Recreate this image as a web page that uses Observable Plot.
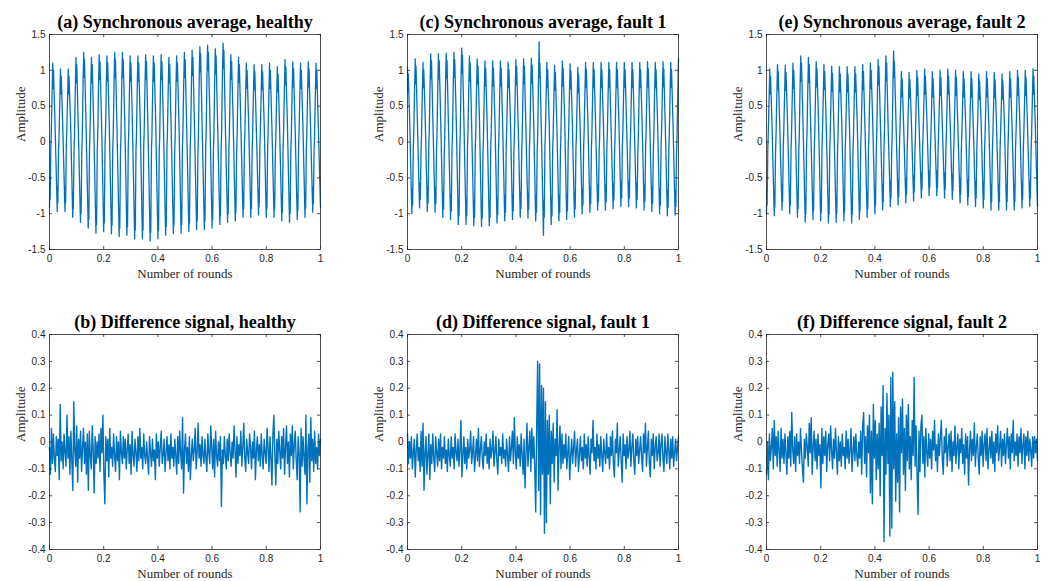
<!DOCTYPE html>
<html><head><meta charset="utf-8">
<script src="https://cdn.jsdelivr.net/npm/d3@7"></script>
<script src="https://cdn.jsdelivr.net/npm/@observablehq/plot@0.6"></script>
<style>
html,body{margin:0;padding:0;background:#fff;width:1053px;height:581px;overflow:hidden;}
#root{position:relative;width:1053px;height:581px;}
.panel{position:absolute;}
</style></head><body><div id="root"></div>
<script>
const titles = ["(a) Synchronous average, healthy","(b) Difference signal, healthy","(c) Synchronous average, fault 1","(d) Difference signal, fault 1","(e) Synchronous average, fault 2","(f) Difference signal, fault 2"];
const xLabel = "Number of rounds";
const yLabel = "Amplitude";
const xTicks = [0,0.2,0.4,0.6,0.8,1];
const xTickLabels = ["0","0.2","0.4","0.6","0.8","1"];
const yTicksTop = [1.5,1,0.5,0,-0.5,-1,-1.5];
const yTickLabelsTop = ["1.5","1","0.5","0","-0.5","-1","-1.5"];
const yTicksBottom = [0.4,0.3,0.2,0.1,0,-0.1,-0.2,-0.3,-0.4];
const yTickLabelsBottom = ["0.4","0.3","0.2","0.1","0","-0.1","-0.2","-0.3","-0.4"];

// 35 teeth per round; 10 samples per tooth, at these positions within the tooth period
const teeth = 35;
const phaseTroughFirst = [0, 0.04, 0.08, 0.17, 0.23, 0.34, 0.42, 0.47, 0.52, 0.72];
const phasePeakFirst = [0, 0.05, 0.1, 0.3, 0.56, 0.61, 0.66, 0.75, 0.81, 0.92];

// (a) synchronous average, healthy
const syncHealthy = [
-0.92,-0.57,-0.80,-0.08,0.12,0.70,1.10,0.75,1.00,0.22,
-0.97,-0.62,-0.85,-0.12,0.08,0.62,1.02,0.67,0.92,0.18,
-0.97,-0.62,-0.85,-0.05,0.15,0.62,1.02,0.67,0.92,0.28,
-1.05,-0.70,-0.93,-0.10,0.10,0.78,1.18,0.83,1.08,0.20,
-1.12,-0.77,-1.00,-0.14,0.06,0.85,1.25,0.90,1.15,0.25,
-1.20,-0.85,-1.08,-0.08,0.12,0.78,1.18,0.83,1.08,0.18,
-1.27,-0.92,-1.15,-0.12,0.10,0.82,1.22,0.87,1.12,0.30,
-1.25,-0.90,-1.13,-0.06,0.14,0.80,1.20,0.85,1.10,0.22,
-1.28,-0.93,-1.16,-0.10,0.10,0.85,1.25,0.90,1.15,0.16,
-1.32,-0.97,-1.20,-0.14,0.06,0.85,1.25,0.90,1.15,0.28,
-1.30,-0.95,-1.18,-0.08,0.12,0.80,1.20,0.85,1.10,0.20,
-1.35,-1.00,-1.23,-0.12,0.08,0.80,1.20,0.85,1.10,0.26,
-1.35,-1.00,-1.23,-0.05,0.15,0.82,1.22,0.87,1.12,0.18,
-1.38,-1.03,-1.26,-0.10,0.10,0.80,1.20,0.85,1.10,0.28,
-1.35,-1.00,-1.23,-0.14,0.06,0.82,1.22,0.87,1.12,0.22,
-1.30,-0.95,-1.18,-0.08,0.12,0.78,1.18,0.83,1.08,0.16,
-1.28,-0.93,-1.16,-0.12,0.08,0.80,1.20,0.85,1.10,0.28,
-1.27,-0.92,-1.15,-0.06,0.14,0.85,1.25,0.90,1.15,0.20,
-1.25,-0.90,-1.13,-0.10,0.10,0.88,1.28,0.93,1.18,0.26,
-1.22,-0.87,-1.10,-0.14,0.06,0.93,1.33,0.98,1.23,0.18,
-1.22,-0.87,-1.10,-0.08,0.12,0.95,1.35,1.00,1.25,0.30,
-1.20,-0.85,-1.08,-0.12,0.08,0.90,1.30,0.95,1.20,0.22,
-1.15,-0.80,-1.03,-0.06,0.14,0.98,1.38,1.03,1.28,0.18,
-1.12,-0.77,-1.00,-0.10,0.10,0.82,1.22,0.87,1.12,0.28,
-1.10,-0.75,-0.98,-0.14,0.06,0.78,1.18,0.83,1.08,0.20,
-1.05,-0.70,-0.93,-0.08,0.12,0.70,1.10,0.75,1.00,0.26,
-1.05,-0.70,-0.93,-0.12,0.08,0.68,1.08,0.73,0.98,0.16,
-1.02,-0.67,-0.90,-0.06,0.14,0.68,1.08,0.73,0.98,0.28,
-1.05,-0.70,-0.93,-0.10,0.10,0.70,1.10,0.75,1.00,0.22,
-1.05,-0.70,-0.93,-0.14,0.06,0.65,1.05,0.70,0.95,0.18,
-1.10,-0.75,-0.98,-0.08,0.12,0.75,1.15,0.80,1.05,0.28,
-1.12,-0.77,-1.00,-0.12,0.08,0.72,1.12,0.77,1.02,0.20,
-1.08,-0.73,-0.96,-0.06,0.14,0.70,1.10,0.75,1.00,0.26,
-1.05,-0.70,-0.93,-0.10,0.10,0.72,1.12,0.77,1.02,0.18,
-0.98,-0.63,-0.86,-0.14,0.06,0.70,1.10,0.75,1.00,0.22,
-0.92];

// (c) synchronous average, fault 1
const syncFault1 = [
1.05,0.70,0.95,0.22,-1.00,-0.65,-0.88,-0.08,0.12,0.76,
1.16,0.81,1.06,0.18,-0.92,-0.57,-0.80,-0.12,0.08,0.71,
1.11,0.76,1.01,0.28,-0.97,-0.62,-0.85,-0.05,0.15,0.83,
1.23,0.88,1.13,0.20,-0.98,-0.63,-0.86,-0.10,0.10,0.83,
1.23,0.88,1.13,0.25,-1.05,-0.70,-0.93,-0.14,0.06,0.84,
1.24,0.89,1.14,0.18,-1.08,-0.73,-0.96,-0.08,0.12,0.85,
1.25,0.90,1.15,0.30,-1.15,-0.80,-1.03,-0.12,0.10,0.91,
1.31,0.96,1.21,0.22,-1.15,-0.80,-1.03,-0.06,0.14,0.80,
1.20,0.85,1.10,0.16,-1.17,-0.82,-1.05,-0.10,0.10,0.76,
1.16,0.81,1.06,0.28,-1.18,-0.83,-1.06,-0.14,0.06,0.73,
1.13,0.78,1.03,0.20,-1.17,-0.82,-1.05,-0.08,0.12,0.73,
1.13,0.78,1.03,0.26,-1.13,-0.78,-1.01,-0.12,0.08,0.73,
1.13,0.78,1.03,0.18,-1.10,-0.75,-0.98,-0.05,0.15,0.71,
1.11,0.76,1.01,0.28,-1.08,-0.73,-0.96,-0.10,0.10,0.75,
1.15,0.80,1.05,0.22,-1.05,-0.70,-0.93,-0.14,0.06,0.76,
1.16,0.81,1.06,0.16,-1.06,-0.71,-0.94,-0.08,0.12,0.77,
1.17,0.82,1.07,0.28,-1.10,-0.75,-0.98,-0.12,0.08,0.85,
1.40,0.90,1.10,0.10,-1.30,-0.82,-1.05,-0.06,0.14,0.71,
1.11,0.76,1.01,0.26,-1.15,-0.80,-1.03,-0.10,0.10,0.67,
1.07,0.72,0.97,0.18,-1.10,-0.75,-0.98,-0.14,0.06,0.73,
1.13,0.78,1.03,0.30,-1.08,-0.73,-0.96,-0.08,0.12,0.69,
1.09,0.74,0.99,0.22,-1.05,-0.70,-0.93,-0.12,0.08,0.64,
1.04,0.69,0.94,0.18,-1.00,-0.65,-0.88,-0.06,0.14,0.71,
1.11,0.76,1.01,0.28,-0.98,-0.63,-0.86,-0.10,0.10,0.71,
1.11,0.76,1.01,0.20,-0.95,-0.60,-0.83,-0.14,0.06,0.71,
1.11,0.76,1.01,0.26,-0.95,-0.60,-0.83,-0.08,0.12,0.71,
1.11,0.76,1.01,0.16,-0.93,-0.58,-0.81,-0.12,0.08,0.71,
1.11,0.76,1.01,0.28,-0.90,-0.55,-0.78,-0.06,0.14,0.71,
1.11,0.76,1.01,0.22,-0.90,-0.55,-0.78,-0.10,0.10,0.71,
1.11,0.76,1.01,0.18,-0.92,-0.57,-0.80,-0.14,0.06,0.71,
1.11,0.76,1.01,0.28,-0.95,-0.60,-0.83,-0.08,0.12,0.72,
1.12,0.77,1.02,0.20,-0.97,-0.62,-0.85,-0.12,0.08,0.71,
1.11,0.76,1.01,0.26,-1.00,-0.65,-0.88,-0.06,0.14,0.72,
1.12,0.77,1.02,0.18,-1.03,-0.68,-0.91,-0.10,0.10,0.71,
1.11,0.76,1.01,0.22,-1.02,-0.67,-0.90,-0.14,0.06,0.76,
1.16];

// (e) synchronous average, fault 2
const syncFault2 = [
-1.00,-0.65,-0.88,-0.08,0.12,0.62,1.02,0.67,0.92,0.22,
-1.03,-0.68,-0.91,-0.12,0.08,0.68,1.08,0.73,0.98,0.18,
-0.95,-0.60,-0.83,-0.05,0.15,0.67,1.07,0.72,0.97,0.28,
-1.00,-0.65,-0.88,-0.10,0.10,0.70,1.10,0.75,1.00,0.20,
-1.05,-0.70,-0.93,-0.14,0.06,0.80,1.20,0.85,1.10,0.25,
-1.12,-0.77,-1.00,-0.08,0.12,0.78,1.18,0.83,1.08,0.18,
-1.08,-0.73,-0.96,-0.12,0.10,0.72,1.12,0.77,1.02,0.30,
-1.10,-0.75,-0.98,-0.06,0.14,0.68,1.08,0.73,0.98,0.22,
-1.13,-0.78,-1.01,-0.10,0.10,0.66,1.06,0.71,0.96,0.16,
-1.12,-0.77,-1.00,-0.14,0.06,0.65,1.05,0.70,0.95,0.28,
-1.10,-0.75,-0.98,-0.08,0.12,0.65,1.05,0.70,0.95,0.20,
-1.13,-0.78,-1.01,-0.12,0.08,0.65,1.05,0.70,0.95,0.26,
-1.08,-0.73,-0.96,-0.05,0.15,0.68,1.08,0.73,0.98,0.18,
-1.05,-0.70,-0.93,-0.10,0.10,0.70,1.10,0.75,1.00,0.28,
-1.00,-0.65,-0.88,-0.14,0.06,0.75,1.15,0.80,1.05,0.22,
-0.95,-0.60,-0.83,-0.08,0.12,0.80,1.20,0.85,1.10,0.16,
-0.90,-0.55,-0.78,-0.12,0.08,0.85,1.27,0.90,1.12,0.28,
-0.88,-0.53,-0.76,-0.06,0.14,0.58,0.98,0.63,0.88,0.20,
-0.85,-0.50,-0.73,-0.10,0.10,0.57,0.97,0.62,0.87,0.26,
-0.82,-0.47,-0.70,-0.14,0.06,0.60,1.00,0.65,0.90,0.18,
-0.78,-0.43,-0.66,-0.08,0.12,0.62,1.02,0.67,0.92,0.30,
-0.75,-0.40,-0.63,-0.12,0.08,0.58,0.98,0.63,0.88,0.22,
-0.75,-0.40,-0.63,-0.06,0.14,0.60,1.00,0.65,0.90,0.18,
-0.78,-0.43,-0.66,-0.10,0.10,0.62,1.02,0.67,0.92,0.28,
-0.80,-0.45,-0.68,-0.14,0.06,0.60,1.00,0.65,0.90,0.20,
-0.85,-0.50,-0.73,-0.08,0.12,0.58,0.98,0.63,0.88,0.26,
-0.88,-0.53,-0.76,-0.12,0.08,0.58,0.98,0.63,0.88,0.16,
-0.90,-0.55,-0.78,-0.06,0.14,0.55,0.95,0.60,0.85,0.28,
-0.92,-0.57,-0.80,-0.10,0.10,0.58,0.98,0.63,0.88,0.22,
-0.95,-0.60,-0.83,-0.14,0.06,0.57,0.97,0.62,0.87,0.18,
-0.95,-0.60,-0.83,-0.08,0.12,0.55,0.95,0.60,0.85,0.28,
-0.95,-0.60,-0.83,-0.12,0.08,0.58,0.98,0.63,0.88,0.20,
-0.95,-0.60,-0.83,-0.06,0.14,0.60,1.00,0.65,0.90,0.26,
-0.92,-0.57,-0.80,-0.10,0.10,0.60,1.00,0.65,0.90,0.18,
-0.90,-0.55,-0.78,-0.14,0.06,0.62,1.02,0.67,0.92,0.22,
-0.90];

// (b) difference signal, healthy
const diffHealthy = [
-0.02,-0.12,0.05,-0.08,0.03,-0.06,-0.11,0.02,-0.05,0.01,-0.14,0.14,-0.07,0.00,-0.10,0.03,-0.04,-0.09,0.10,-0.06,
0.02,-0.12,0.04,-0.07,-0.18,0.15,-0.03,-0.09,0.06,-0.15,0.01,-0.06,0.04,-0.11,-0.02,0.05,-0.08,0.00,-0.12,0.03,
-0.18,0.04,-0.05,-0.10,0.06,-0.03,-0.19,0.02,-0.08,0.00,-0.06,0.03,-0.11,0.05,-0.04,0.10,-0.12,-0.23,0.02,-0.07,
0.01,-0.13,0.05,-0.06,-0.02,-0.09,0.03,-0.05,-0.11,0.02,-0.07,0.00,-0.14,0.04,-0.04,-0.08,0.02,-0.06,0.01,-0.10,
-0.03,0.03,-0.08,-0.01,-0.12,0.04,-0.05,-0.09,0.01,-0.04,-0.11,0.02,-0.07,0.05,-0.06,-0.02,-0.10,0.03,-0.05,-0.08,
0.00,-0.06,-0.12,0.02,-0.04,-0.09,0.01,-0.07,-0.03,-0.14,0.03,-0.06,0.00,-0.09,-0.02,0.04,-0.08,-0.05,0.01,-0.11,
-0.04,0.02,-0.07,-0.01,-0.10,0.03,-0.06,-0.02,-0.09,0.01,-0.05,-0.12,0.02,-0.08,0.04,-0.04,-0.10,0.09,-0.19,-0.03,
0.03,-0.08,-0.02,-0.11,0.02,-0.14,-0.05,0.01,-0.07,-0.03,0.05,-0.10,-0.04,0.07,-0.06,-0.01,-0.09,0.02,-0.05,-0.08,
0.01,-0.06,-0.11,0.03,-0.04,-0.08,0.06,-0.02,-0.10,0.01,-0.13,0.04,-0.05,-0.09,0.00,-0.07,0.02,-0.24,-0.03,-0.08,
0.02,-0.05,-0.10,0.01,-0.07,0.03,-0.04,-0.09,0.00,-0.06,0.06,-0.03,-0.13,0.02,-0.08,-0.01,-0.05,0.04,-0.09,-0.02,
0.07,-0.06,-0.11,0.01,-0.04,-0.08,0.03,-0.02,-0.10,0.00,-0.06,0.04,-0.14,-0.03,0.02,-0.07,-0.01,-0.09,0.03,-0.05,
-0.10,0.01,-0.04,-0.08,0.05,-0.02,-0.11,0.02,-0.06,-0.16,0.03,0.10,-0.05,-0.16,0.01,-0.08,0.04,-0.03,-0.10,0.02,
-0.06,0.05,-0.12,-0.02,0.06,-0.08,0.00,-0.13,0.03,-0.05,0.06,-0.10,-0.01,0.04,-0.07,-0.14,0.02,-0.04,-0.26,0.05,
-0.09,0.02,-0.06,-0.12,0.10,-0.23,-0.03,0.03,-0.15,0.09,-0.07,0.01,-0.11,0.04,-0.08,-0.02,-0.10,0.03,-0.05,0.01];

// (d) difference signal, fault 1
const diffFault1 = [
0.03,-0.08,0.00,-0.06,0.02,-0.10,-0.04,0.01,-0.13,-0.03,0.03,-0.07,-0.02,-0.11,0.04,-0.09,0.07,-0.18,-0.04,0.02,
-0.12,-0.05,0.03,-0.14,-0.01,-0.08,0.03,-0.06,-0.11,0.02,-0.04,-0.09,0.01,-0.07,0.03,-0.10,-0.02,-0.06,0.02,-0.08,
-0.03,-0.11,0.01,-0.05,-0.09,0.02,-0.06,-0.02,-0.10,0.03,-0.04,-0.07,0.01,-0.09,-0.03,0.08,-0.13,-0.05,0.02,-0.08,
-0.02,-0.10,0.01,-0.06,-0.03,0.04,-0.08,-0.04,0.02,-0.11,-0.05,0.01,-0.07,0.05,-0.09,-0.03,0.02,-0.06,-0.10,0.00,
-0.05,0.03,-0.08,-0.02,-0.10,0.01,-0.06,-0.03,0.04,-0.09,-0.04,0.02,-0.07,-0.12,0.01,-0.05,-0.02,-0.08,0.03,-0.06,
-0.03,-0.09,0.01,-0.05,-0.11,0.02,-0.07,-0.02,0.04,-0.08,0.09,-0.04,-0.10,0.02,-0.06,-0.01,-0.09,0.03,-0.05,-0.12,
0.01,-0.17,-0.04,0.07,-0.09,-0.02,0.04,-0.11,0.05,-0.06,0.02,-0.10,-0.26,0.06,0.30,-0.18,0.29,-0.27,0.21,-0.12,
0.20,-0.34,0.15,-0.30,0.08,-0.12,0.10,-0.23,0.04,-0.08,0.07,-0.15,0.01,-0.05,0.12,-0.18,-0.02,0.06,-0.10,0.03,
-0.08,-0.01,-0.06,0.03,-0.10,-0.04,0.02,-0.14,-0.05,0.01,-0.08,-0.02,0.04,-0.09,-0.03,0.01,-0.11,-0.05,0.02,-0.07,
-0.02,-0.10,0.03,-0.06,-0.01,-0.09,0.02,-0.05,-0.12,0.01,-0.04,0.08,-0.07,-0.02,-0.10,0.03,-0.06,-0.01,-0.09,0.02,
-0.05,-0.11,0.01,-0.04,-0.08,0.03,-0.06,-0.02,-0.10,0.02,-0.05,0.04,-0.08,-0.13,0.01,-0.04,0.07,-0.09,-0.03,0.02,
-0.07,-0.15,0.03,-0.05,-0.01,-0.10,0.02,-0.06,-0.03,0.04,-0.09,-0.02,0.03,-0.07,-0.12,0.01,-0.05,0.02,-0.08,-0.03,
0.02,-0.06,-0.11,0.03,-0.04,0.07,-0.09,-0.02,0.04,-0.08,-0.13,0.01,-0.05,0.03,-0.10,-0.02,0.02,-0.07,-0.04,0.03,
-0.09,-0.01,0.03,-0.06,-0.11,0.02,-0.04,-0.08,0.03,-0.03,-0.10,0.01,-0.06,0.02,-0.09,-0.04,0.01,-0.07,-0.02,0.02];

// (f) difference signal, fault 2
const diffFault2 = [
-0.12,0.00,-0.14,0.03,-0.07,-0.02,0.05,-0.10,0.08,-0.05,0.02,-0.09,0.04,-0.03,-0.11,0.05,-0.06,0.01,-0.08,0.03,
-0.04,-0.12,0.02,-0.06,0.04,-0.09,0.11,-0.03,-0.08,0.02,-0.11,0.03,-0.05,0.00,-0.08,0.05,-0.03,-0.10,-0.15,0.01,
-0.06,0.03,-0.02,-0.09,0.07,-0.04,0.09,-0.12,-0.02,0.04,-0.07,0.01,-0.10,0.03,-0.05,-0.01,-0.17,0.05,-0.08,0.02,
-0.05,0.04,-0.11,-0.01,0.03,-0.07,0.06,-0.03,-0.10,0.01,-0.06,0.05,-0.04,-0.12,0.02,-0.07,0.00,-0.09,0.03,-0.05,
-0.02,-0.10,0.04,-0.06,0.01,-0.08,-0.03,0.05,-0.11,-0.04,0.02,-0.07,0.03,-0.05,-0.09,0.00,-0.06,0.04,-0.12,0.06,
0.11,-0.08,0.02,-0.13,0.06,-0.04,0.10,-0.19,0.04,-0.23,0.14,-0.06,0.08,-0.14,0.03,-0.10,0.07,-0.20,0.13,-0.05,
0.21,-0.37,0.05,-0.12,0.18,-0.08,0.10,-0.35,0.24,-0.32,0.26,-0.10,0.15,-0.22,0.03,-0.15,0.09,-0.26,0.13,-0.04,
0.16,-0.12,0.05,-0.18,0.10,-0.07,0.14,-0.10,0.02,-0.14,0.08,-0.05,0.24,-0.09,0.06,-0.12,-0.27,0.04,-0.11,0.06,
0.10,-0.08,0.02,-0.13,0.05,-0.04,-0.09,0.03,-0.06,0.01,-0.10,0.04,-0.03,0.08,-0.07,-0.01,-0.11,0.03,-0.05,0.02,
0.08,-0.06,-0.12,0.02,-0.04,0.05,-0.09,-0.02,0.03,-0.07,0.04,-0.11,0.00,-0.05,0.06,-0.08,-0.02,0.03,-0.10,0.01,
-0.04,0.05,-0.08,-0.01,-0.12,0.03,-0.06,0.02,-0.16,-0.03,0.04,-0.07,0.01,-0.05,0.07,-0.09,-0.02,0.03,-0.06,-0.12,
0.02,-0.05,0.04,-0.09,-0.01,0.03,-0.07,0.05,-0.10,-0.03,0.02,-0.06,0.04,-0.08,0.00,-0.11,0.03,-0.04,0.06,-0.07,
-0.02,0.04,-0.09,0.01,-0.05,0.03,-0.08,-0.01,0.05,-0.06,0.02,-0.10,0.03,-0.04,0.08,-0.07,0.00,-0.05,0.03,-0.09,
0.02,-0.04,0.05,-0.08,-0.01,0.03,-0.10,0.02,-0.05,0.04,-0.07,0.01,-0.03,-0.09,0.02,-0.06,0.02,-0.04,0.01,-0.07];

// ---- layout ----
const FW = 271, FH = 215, ML = 48, MR = 12, MT = 30, MB = 33;
const INK = "#262626";
const SERIF = "'Liberation Serif','Times New Roman',serif";

function toothSeries(values, phase) {
  const n = phase.length;
  return values.map((v, i) => ({x: i === values.length - 1 ? 1 : (Math.floor(i / n) + phase[i % n]) / teeth, y: v}));
}
function uniformSeries(values) {
  return values.map((v, i) => ({x: i / (values.length - 1), y: v}));
}

function panel(data, yTicks, yTickLabels, title, frameLeft, frameTop, lineWidth) {
  const chart = Plot.plot({
    width: ML + FW + MR, height: MT + FH + MB,
    marginLeft: ML, marginRight: MR, marginTop: MT, marginBottom: MB,
    style: {background: "transparent", fontFamily: "'Liberation Sans', Arial, sans-serif", fontSize: "10px", color: INK, overflow: "visible"},
    x: {domain: [0, 1]},
    y: {domain: [yTicks[yTicks.length - 1], yTicks[0]]},
    marks: [
      Plot.line(data, {x: "x", y: "y", stroke: "#0072BD", strokeWidth: lineWidth}),
      Plot.tickX(xTicks, {x: d => d, insetTop: FH - 3, stroke: INK, strokeWidth: 0.8}),
      Plot.tickX(xTicks, {x: d => d, insetBottom: FH - 3, stroke: INK, strokeWidth: 0.8}),
      Plot.tickY(yTicks, {y: d => d, insetRight: FW - 3, stroke: INK, strokeWidth: 0.8}),
      Plot.tickY(yTicks, {y: d => d, insetLeft: FW - 3, stroke: INK, strokeWidth: 0.8}),
      Plot.frame({stroke: INK, strokeWidth: 0.8}),
      Plot.axisX(xTicks, {tickSize: 0, tickPadding: 5, tickFormat: d => xTickLabels[xTicks.indexOf(d)], label: null, fill: INK}),
      Plot.axisY(yTicks, {tickSize: 0, tickPadding: 4, tickFormat: d => yTickLabels[yTicks.indexOf(d)], label: null, fill: INK}),
      Plot.text([title], {frameAnchor: "top", dy: -12, text: d => d, fontFamily: SERIF, fontWeight: "bold", fontSize: 18, fill: "#000", lineAnchor: "middle"}),
      Plot.text([xLabel], {frameAnchor: "bottom", dy: 24, text: d => d, fontFamily: SERIF, fontSize: 13, fill: INK, lineAnchor: "middle"}),
      Plot.text([yLabel], {frameAnchor: "left", dx: -29, rotate: -90, text: d => d, fontFamily: SERIF, fontSize: 13, fill: INK, lineAnchor: "middle"})
    ]
  });
  const div = document.createElement("div");
  div.className = "panel";
  div.style.left = (frameLeft - ML) + "px";
  div.style.top = (frameTop - MT) + "px";
  div.appendChild(chart);
  document.getElementById("root").appendChild(div);
}

const colLeft = [49, 407, 766];
const rowTop = [34, 334];
panel(toothSeries(syncHealthy, phaseTroughFirst), yTicksTop, yTickLabelsTop, titles[0], colLeft[0], rowTop[0], 1.3);
panel(uniformSeries(diffHealthy), yTicksBottom, yTickLabelsBottom, titles[1], colLeft[0], rowTop[1], 1.4);
panel(toothSeries(syncFault1, phasePeakFirst), yTicksTop, yTickLabelsTop, titles[2], colLeft[1], rowTop[0], 1.3);
panel(uniformSeries(diffFault1), yTicksBottom, yTickLabelsBottom, titles[3], colLeft[1], rowTop[1], 1.4);
panel(toothSeries(syncFault2, phaseTroughFirst), yTicksTop, yTickLabelsTop, titles[4], colLeft[2], rowTop[0], 1.3);
panel(uniformSeries(diffFault2), yTicksBottom, yTickLabelsBottom, titles[5], colLeft[2], rowTop[1], 1.4);
</script></body></html>
